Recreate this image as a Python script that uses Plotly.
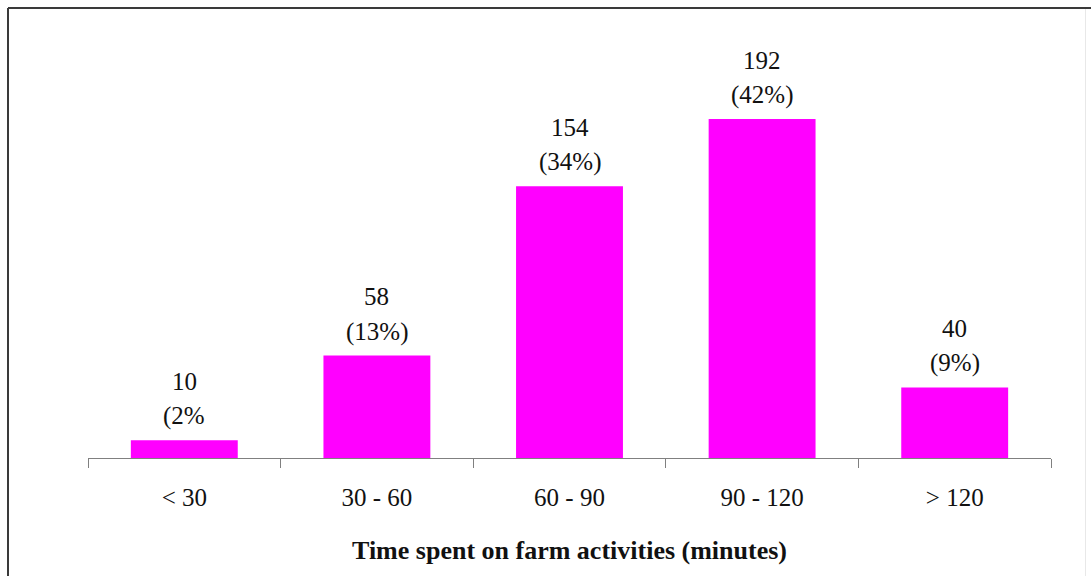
import plotly.graph_objects as go

# Farm-activity time bands and respondent counts
categories = ["< 30", "30 - 60", "60 - 90", "90 - 120", "> 120"]
counts = [10, 58, 154, 192, 40]
pct_labels = ["(2%", "(13%)", "(34%)", "(42%)", "(9%)"]

FONT = "Liberation Serif"
BAR_COLOR = "#FF00FF"
TEXT_COLOR = "#111111"

# Plot-area geometry in pixels, used to place the frame lines in paper units
L, R, T, B = 88, 40, 52, 118
W, H = 1091, 576
PW, PH = W - L - R, H - T - B


def px_x(p):
    return (p - L) / PW


def px_y(q):
    return (H - B - q) / PH


fig = go.Figure(
    go.Bar(
        x=categories,
        y=counts,
        marker=dict(color=BAR_COLOR, line=dict(width=0)),
        hoverinfo="x+y",
    )
)

# Two-line value labels above each bar: count, then share
annotations = []
for cat, n, pct in zip(categories, counts, pct_labels):
    annotations.append(dict(
        x=cat, y=n, xref="x", yref="y", text=str(n), showarrow=False,
        yanchor="middle", yshift=59, font=dict(family=FONT, size=25, color=TEXT_COLOR),
    ))
    annotations.append(dict(
        x=cat, y=n, xref="x", yref="y", text=pct, showarrow=False,
        yanchor="middle", yshift=24, font=dict(family=FONT, size=25, color=TEXT_COLOR),
    ))

frame = [
    # top and left edges of the frame
    dict(type="line", xref="paper", yref="paper",
         x0=px_x(8), x1=px_x(W + 5), y0=px_y(8), y1=px_y(8),
         line=dict(color="#3a3a3a", width=2)),
    dict(type="line", xref="paper", yref="paper",
         x0=px_x(8), x1=px_x(8), y0=px_y(8), y1=px_y(H + 5),
         line=dict(color="#3a3a3a", width=2)),
    # faint right edge
    dict(type="line", xref="paper", yref="paper",
         x0=px_x(1085.5), x1=px_x(1085.5), y0=px_y(9), y1=px_y(H + 5),
         line=dict(color="#e8e8e8", width=1)),
]

fig.update_layout(
    width=W,
    height=H,
    margin=dict(l=L, r=R, t=T, b=B),
    paper_bgcolor="white",
    plot_bgcolor="white",
    bargap=0.445,
    showlegend=False,
    annotations=annotations,
    shapes=frame,
    font=dict(family=FONT, size=25, color=TEXT_COLOR),
    xaxis=dict(
        type="category",
        showline=True,
        linecolor="#808080",
        linewidth=1,
        ticks="outside",
        tickson="boundaries",
        ticklen=9,
        tickcolor="#808080",
        tickwidth=1,
        showgrid=False,
        tickfont=dict(family=FONT, size=25, color=TEXT_COLOR),
        ticklabelstandoff=17,
        title=dict(
            text="<b>Time spent on farm activities (minutes)</b>",
            font=dict(family=FONT, size=26, color=TEXT_COLOR),
            standoff=30,
        ),
    ),
    yaxis=dict(
        range=[0, 230],
        visible=False,
        showgrid=False,
        zeroline=False,
    ),
)

fig.write_html("out.html")
